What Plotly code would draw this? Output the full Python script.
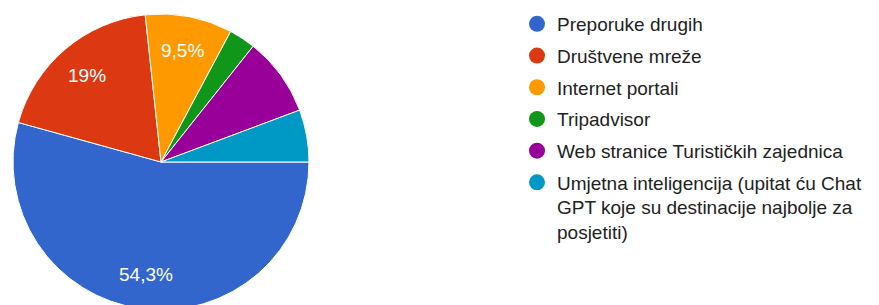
import math
import plotly.graph_objects as go

categories = [
    "Preporuke drugih",
    "Društvene mreže",
    "Internet portali",
    "Tripadvisor",
    "Web stranice Turističkih zajednica",
    "Umjetna inteligencija (upitat ću Chat<br>GPT koje su destinacije najbolje za<br>posjetiti)",
]
values = [54.3, 19.0, 9.5, 2.9, 8.6, 5.7]
colors = ["#3366cc", "#dc3912", "#ff9900", "#109618", "#990099", "#0099c6"]

W, H = 879, 310
CX, CY, R = 161, 162, 148
FONT = "Liberation Sans, Arial, sans-serif"

fig = go.Figure()
fig.add_trace(go.Pie(
    values=values,
    labels=categories,
    marker=dict(colors=colors, line=dict(color="white", width=1)),
    sort=False,
    direction="clockwise",
    rotation=90,
    textinfo="none",
    hoverinfo="label+percent",
    showlegend=False,
    domain=dict(x=[(CX - R) / W, (CX + R) / W], y=[(H - CY - R) / H, (H - CY + R) / H]),
))

# legend entries with circle markers
for i, (c, col) in enumerate(zip(categories, colors)):
    fig.add_trace(go.Scatter(
        x=[None], y=[None], mode="markers", name=c,
        marker=dict(color=col, size=19, symbol="circle"),
        legendgroup=f"g{i}", showlegend=True, hoverinfo="skip",
    ))

# percentage labels inside slices
total = sum(values)
start = 0.0
annotations = []
for v in values:
    span = v / total * 360
    mid = math.radians(start + span / 2)
    start += span
    if v >= 9:
        px = CX + 0.77 * R * math.cos(mid)
        py = CY + 0.77 * R * math.sin(mid)
        txt = (f"{v:.1f}".rstrip("0").rstrip(".")).replace(".", ",") + "%"
        annotations.append(dict(
            x=px / W, y=1 - py / H, xref="paper", yref="paper",
            xanchor="center", yanchor="middle",
            text=txt, showarrow=False,
            font=dict(family=FONT, size=19, color="white"),
        ))

fig.update_layout(
    width=W, height=H,
    margin=dict(l=0, r=0, t=0, b=0),
    paper_bgcolor="white", plot_bgcolor="white",
    xaxis=dict(visible=False, domain=[0.99, 1]),
    yaxis=dict(visible=False, domain=[0.99, 1]),
    annotations=annotations,
    legend=dict(
        x=517 / W, y=1 - 5 / H, xanchor="left", yanchor="top",
        font=dict(family=FONT, size=19, color="#222222"),
        tracegroupgap=4, itemsizing="trace", valign="top",
        bgcolor="rgba(0,0,0,0)",
    ),
)

fig.write_html("out.html", config={"displayModeBar": False},
               post_script="document.body.style.margin='0';document.body.style.overflow='hidden';")
